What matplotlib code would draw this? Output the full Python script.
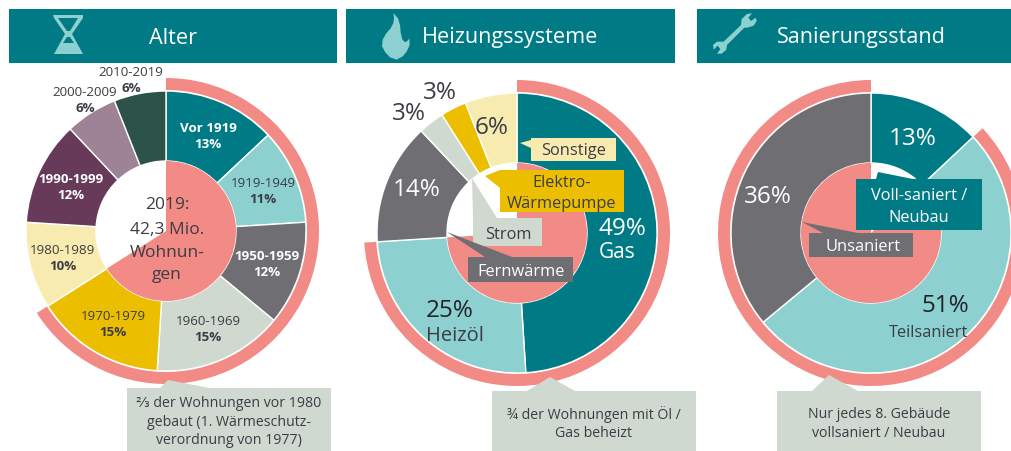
import matplotlib
matplotlib.use("Agg")
import matplotlib.pyplot as plt
from matplotlib.patches import Polygon, Rectangle

WIDTH = 1012
HEIGHT = 451

TEAL = "#007B85"
LIGHT_TEAL = "#8CD0D0"
GREY = "#6E6E73"
PALE = "#D0D9D0"
YELLOW = "#EBBF00"
CREAM = "#F8EBB0"
PURPLE = "#663A58"
MAUVE = "#9E8296"
DARK_GREEN = "#2C5249"
PINK = "#F28A85"
DARK_TEXT = "#3C3C44"

# Alter
age_labels = ["Vor 1919", "1919-1949", "1950-1959", "1960-1969", "1970-1979",
              "1980-1989", "1990-1999", "2000-2009", "2010-2019"]
age_values = [13, 11, 12, 15, 15, 10, 12, 6, 6]
age_colors = [TEAL, LIGHT_TEAL, GREY, PALE, YELLOW, CREAM, PURPLE, MAUVE, DARK_GREEN]
age_text = ["white", DARK_TEXT, "white", DARK_TEXT, DARK_TEXT, DARK_TEXT, "white", DARK_TEXT, DARK_TEXT]
age_pos = [(208, 127), (263, 182), (267, 255), (208, 320), (113, 315),
           (63, 249), (71, 178), (85, 91), (131, 71)]
age_pink = 66

# Heizungssysteme
heat_values = [49, 25, 14, 3, 3, 6]
heat_colors = [TEAL, LIGHT_TEAL, GREY, PALE, YELLOW, CREAM]
heat_text = ["white", "#222228", "white", DARK_TEXT, DARK_TEXT, DARK_TEXT]
heat_pos = [(622, 227), (450, 309), (417, 188), (409, 112), (440, 91), (492, 126)]
heat_pink = 74

# Sanierungsstand
reno_values = [13, 51, 36]
reno_colors = [TEAL, LIGHT_TEAL, GREY]
reno_text = ["white", "#222228", "white"]
reno_pos = [(913, 137), (945, 304), (768, 195)]
reno_pink = 87


def py(y):
    return HEIGHT - y


def flip(points):
    return [(x, py(y)) for x, y in points]


def ring(ax, cx, cy, values, colors):
    ax.pie(values, colors=colors, center=(cx, py(cy)), radius=140, startangle=90,
           counterclock=False, wedgeprops=dict(width=70, edgecolor="white", linewidth=1))


def inner_and_arc(ax, cx, cy, share, skip_first=False):
    rest = 100 - share
    values = [rest, share] if skip_first else [share, rest]
    colors = ["none", PINK] if skip_first else [PINK, "none"]
    ax.pie(values, colors=colors, center=(cx, py(cy)), radius=70, startangle=90,
           counterclock=False, wedgeprops=dict(edgecolor="none"))
    ax.pie(values, colors=colors, center=(cx, py(cy)), radius=153, startangle=90,
           counterclock=False, wedgeprops=dict(width=12, edgecolor="none"))


def header(ax, x0, x1, title, tx):
    ax.add_patch(Rectangle((x0, py(63)), x1 - x0, 54, color=TEAL, lw=0, zorder=2))
    ax.text(tx, py(38), title, color="white", fontsize=15.6, ha="center", va="center", zorder=4)


def callout(ax, box, pointer, color, zorder=5):
    x0, y0, x1, y1 = box
    ax.add_patch(Rectangle((x0, py(y1)), x1 - x0, y1 - y0, color=color, lw=0, zorder=zorder))
    ax.add_patch(Polygon(flip(pointer), closed=True, color=color, lw=0, zorder=zorder))


def label(ax, x, y, s, color=DARK_TEXT, size=9, weight="normal"):
    # va=center sits a bit high for this font, nudge down with the size
    ax.text(x, py(y + size * 0.13), s, color=color, fontsize=size, fontweight=weight,
            ha="center", va="center", zorder=7)


plt.rcParams["font.family"] = ["Open Sans", "DejaVu Sans"]
fig = plt.figure(figsize=(WIDTH / 100, HEIGHT / 100), dpi=100)
ax = fig.add_axes([0, 0, 1, 1])

# donuts
ring(ax, 166, 231, age_values, age_colors)
inner_and_arc(ax, 166, 231, age_pink)
ring(ax, 517, 233, heat_values, heat_colors)
inner_and_arc(ax, 517, 233, heat_pink)
ring(ax, 871, 233, reno_values, reno_colors)
inner_and_arc(ax, 871, 233, reno_pink, skip_first=True)

ax.set_xlim(0, WIDTH)
ax.set_ylim(0, HEIGHT)
ax.set_aspect("auto")
ax.axis("off")

# header bars
header(ax, 9, 337, "Alter", 173)
header(ax, 346, 675, "Heizungssysteme", 510)
header(ax, 697, 1012, "Sanierungsstand", 861)

# hourglass
ax.add_patch(Polygon(flip([(53, 15), (83, 15), (83, 18), (72, 34), (83, 54), (54, 54), (65, 34), (54, 18)]),
                     color=LIGHT_TEAL, lw=0, zorder=3))
ax.add_patch(Polygon(flip([(58, 18), (78, 18), (70, 31), (67, 31)]), color=TEAL, lw=0, zorder=3.5))
ax.add_patch(Polygon(flip([(67, 37), (70, 37), (74, 43), (63, 43)]), color=TEAL, lw=0, zorder=3.5))

# flame
flame = [(70, 12), (84, 28), (90, 48), (92, 70), (97, 92), (106, 100), (114, 94), (118, 88), (119, 108),
         (110, 128), (98, 142), (80, 152), (60, 145), (46, 130), (36, 112), (38, 92), (48, 74), (62, 58),
         (70, 42), (72, 28)]
ax.add_patch(Polygon(flip([(370 + x / 3, 9 + y / 3) for x, y in flame]), color=LIGHT_TEAL, lw=0, zorder=3))

# wrench
wrench = [(108, 48), (110, 30), (126, 15), (141, 13), (130, 26), (138, 36), (152, 26), (155, 36), (146, 50),
          (128, 56), (118, 56), (66, 108), (64, 122), (50, 134), (36, 134), (46, 120), (38, 110), (26, 122),
          (24, 108), (36, 98), (56, 98)]
ax.add_patch(Polygon(flip([(705 + x / 3, 9 + y / 3) for x, y in wrench]), color=LIGHT_TEAL, lw=0, zorder=3))

# Alter labels
for name, value, pos, color in zip(age_labels, age_values, age_pos, age_text):
    bold = "bold" if name in ("Vor 1919", "1950-1959", "1990-1999") else "normal"
    label(ax, pos[0], pos[1], name, color, 9.6, bold)
    label(ax, pos[0], pos[1] + 16, f"{value}%", color, 9.6, "bold")
for y, s in zip((203, 228, 251, 273), ("2019:", "42,3 Mio.", "Wohnun-", "gen")):
    label(ax, 167, y, s, DARK_TEXT, 12.5)

# Heizung labels
for value, pos, color in zip(heat_values, heat_pos, heat_text):
    label(ax, pos[0], pos[1], f"{value}%", color, 17.5)
label(ax, 617, 251, "Gas", "white", 15)
label(ax, 455, 334, "Heizöl", DARK_TEXT, 14.5)

callout(ax, (531, 138, 616, 161), [(520, 143), (531, 140), (531, 148)], CREAM)
label(ax, 574, 149, "Sonstige", DARK_TEXT, 11.8)
callout(ax, (500, 170, 624, 212), [(485, 176), (500, 170), (500, 188)], YELLOW)
label(ax, 562, 181, "Elektro-", DARK_TEXT, 11.8)
label(ax, 562, 202, "Wärmepumpe", DARK_TEXT, 11.8)
callout(ax, (473, 218, 542, 246), [(472, 178), (473, 218), (497, 218)], PALE)
label(ax, 508, 233, "Strom", DARK_TEXT, 11.8)
callout(ax, (468, 257, 573, 282), [(447, 232), (485, 257), (512, 257)], GREY)
label(ax, 521, 270, "Fernwärme", "white", 11.8)

# Sanierung labels
for value, pos, color in zip(reno_values, reno_pos, reno_text):
    label(ax, pos[0], pos[1], f"{value}%", color, 17.5)
label(ax, 929, 331, "Teilsaniert", DARK_TEXT, 11.8)

callout(ax, (856, 179, 982, 230), [(878, 172), (876, 179), (913, 179)], TEAL)
label(ax, 919, 194, "Voll-saniert /", "white", 11.8)
label(ax, 919, 216, "Neubau", "white", 11.8)
callout(ax, (809, 233, 913, 257), [(802, 222), (823, 233), (858, 233)], GREY)
label(ax, 863, 245, "Unsaniert", "white", 11.8)

# bottom notes
callout(ax, (127, 388, 331, 451), [(168, 380), (160, 388), (210, 388)], PALE)
for y, s in zip((402, 421, 439), ("⅔ der Wohnungen vor 1980", "gebaut (1. Wärmeschutz-", "verordnung von 1977)")):
    label(ax, 229, y, s, DARK_TEXT, 10.2)
callout(ax, (492, 391, 696, 451), [(550, 377), (527, 391), (575, 391)], PALE)
for y, s in zip((413, 432), ("¾ der Wohnungen mit Öl /", "Gas beheizt")):
    label(ax, 594, y, s, DARK_TEXT, 10.2)
callout(ax, (777, 391, 981, 451), [(829, 375), (812, 391), (858, 391)], PALE)
for y, s in zip((413, 432), ("Nur jedes 8. Gebäude", "vollsaniert / Neubau")):
    label(ax, 879, y, s, DARK_TEXT, 10.2)

fig.savefig("out.png", dpi=100, facecolor="white")
